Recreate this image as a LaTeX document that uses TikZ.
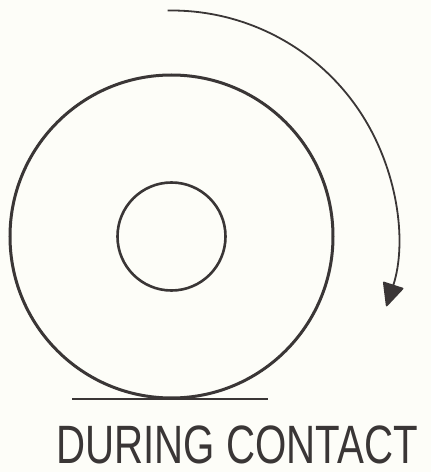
\documentclass[tikz,border=0pt]{standalone}
\usepackage{fontspec}
\setmainfont{Liberation Sans}
\usetikzlibrary{arrows.meta,calc}
\definecolor{inkgray}{RGB}{58,54,54}
\definecolor{paper}{RGB}{253,253,248}
\begin{document}
\begin{tikzpicture}[x=1pt,y=1pt]
\tikzset{
  ring/.style={circle,draw=inkgray,inner sep=0pt},
  spin/.style={-{Triangle[length=24pt,width=22pt,round]},draw=inkgray,fill=none,line width=1.8pt},
  caption/.style={anchor=base,text=inkgray,inner sep=0pt,font=\fontsize{54}{60}\selectfont}
}
\fill[paper] (0,0) rectangle (431,472);
\useasboundingbox (0,0) rectangle (431,472);
\node[ring,line width=3pt,minimum size=323pt] (n_wheel) at (171.5,235.5) {};
\node[ring,line width=2.6pt,minimum size=108pt] (n_hub) at (171.5,235.5) {};
\coordinate (n_gl) at (72,73);
\coordinate (n_gr) at (268,73);
\draw[inkgray,line width=2pt] (n_gl) -- (n_gr);
\coordinate (n_spin) at ($(n_wheel.center)+(91:226)$);
\draw[spin] (n_spin) arc[start angle=91,end angle=-18,radius=226];
\node[caption] (n_label) at (237,9) {\scalebox{0.745}[1]{DURING CONTACT}};
\end{tikzpicture}
\end{document}
